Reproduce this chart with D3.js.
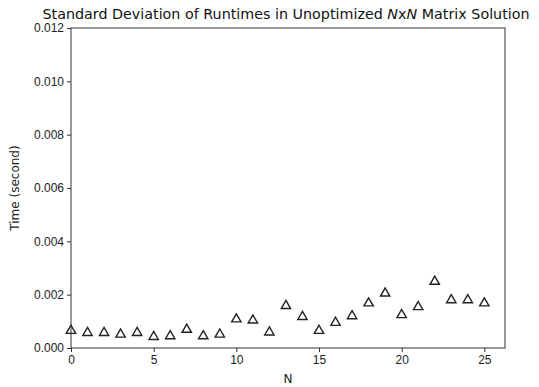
<!DOCTYPE html>
<html>
<head>
<meta charset="utf-8">
<script src="https://cdn.jsdelivr.net/npm/d3@7"></script>
<style>
  body { margin: 0; background: #fff; }
  svg { font-family: "DejaVu Sans", sans-serif; }
</style>
</head>
<body>
<div id="chart"></div>
<script>
// N values and std dev of runtimes (seconds)
var nValues = [0, 1, 2, 3, 4, 5, 6, 7, 8, 9, 10, 11, 12, 13, 14, 15, 16, 17, 18, 19, 20, 21, 22, 23, 24, 25];
var stdDev = [0.00065, 0.00057, 0.00057, 0.00051, 0.00057, 0.00042, 0.00045, 0.00069, 0.00045, 0.00051,
              0.00108, 0.00104, 0.00059, 0.00158, 0.00117, 0.00065, 0.00095, 0.0012, 0.00168, 0.00205,
              0.00124, 0.00154, 0.00249, 0.0018, 0.0018, 0.00168];
var xTicks = [0, 5, 10, 15, 20, 25];
var yTicks = [0, 0.002, 0.004, 0.006, 0.008, 0.010, 0.012];

var margin = {top: 28, right: 34, bottom: 39, left: 71},
    width = 539 - margin.left - margin.right,
    height = 387 - margin.top - margin.bottom;

var svg = d3.select("#chart")
  .append("svg")
    .attr("width", 539)
    .attr("height", 387)
  .append("g")
    .attr("transform", "translate(" + margin.left + "," + margin.top + ")");

var x = d3.scaleLinear().domain([0, 26.25]).range([0, width]);
var y = d3.scaleLinear().domain([0, 0.012]).range([height, 0]);

var axisColor = "#333";

// X axis
var gx = svg.append("g")
  .attr("transform", "translate(0," + height + ")")
  .call(d3.axisBottom(x).tickValues(xTicks).tickFormat(d3.format("d")).tickSize(4).tickPadding(3));

// Y axis
var gy = svg.append("g")
  .call(d3.axisLeft(y).tickValues(yTicks).tickFormat(d3.format(".3f")).tickSize(4).tickPadding(3));

[gx, gy].forEach(function(g) {
  g.select(".domain").remove();
  g.selectAll("line").attr("stroke", axisColor);
  g.selectAll("text").attr("fill", "#222").style("font-size", "12px");
});

// frame
svg.append("rect")
  .attr("width", width)
  .attr("height", height)
  .attr("fill", "none")
  .attr("stroke", axisColor)
  .attr("stroke-width", 1);

// markers
var tri = d3.symbol().type(d3.symbolTriangle).size(38);
svg.selectAll(".pt")
  .data(nValues)
  .enter().append("path")
    .attr("class", "pt")
    .attr("d", tri)
    .attr("transform", function(d, i) { return "translate(" + x(d) + "," + y(stdDev[i]) + ")"; })
    .attr("fill", "none")
    .attr("stroke", "#222")
    .attr("stroke-width", 1.4);

// title
var title = svg.append("text")
  .attr("x", width / 2 - 2)
  .attr("y", -9)
  .attr("text-anchor", "middle")
  .style("font-size", "14.3px")
  .attr("fill", "#111");
title.append("tspan").text("Standard Deviation of Runtimes in Unoptimized ");
title.append("tspan").style("font-style", "italic").text("N");
title.append("tspan").text("x");
title.append("tspan").style("font-style", "italic").text("N");
title.append("tspan").text(" Matrix Solution");

// axis labels
svg.append("text")
  .attr("x", width / 2)
  .attr("y", height + 35)
  .attr("text-anchor", "middle")
  .style("font-size", "12px")
  .attr("fill", "#222")
  .text("N");

svg.append("text")
  .attr("transform", "translate(" + (-52) + "," + (height / 2) + ") rotate(-90)")
  .attr("text-anchor", "middle")
  .style("font-size", "12px")
  .attr("fill", "#222")
  .text("Time (second)");
</script>
</body>
</html>
